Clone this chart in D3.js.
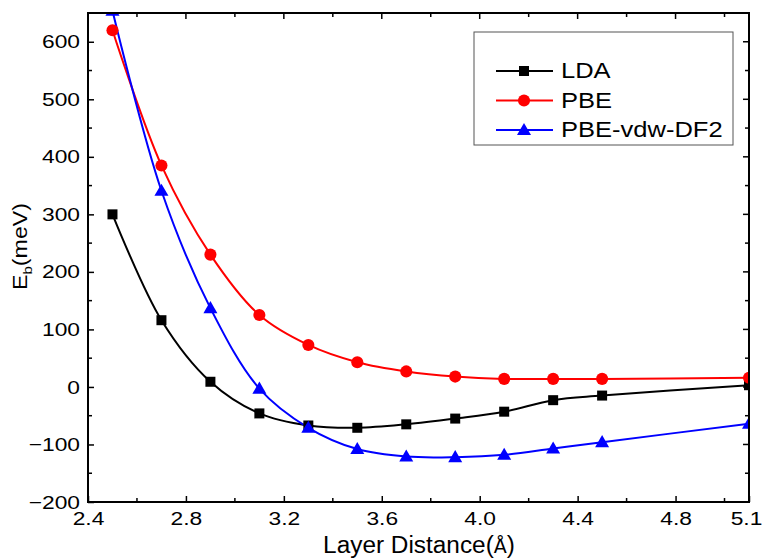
<!DOCTYPE html>
<html><head><meta charset="utf-8">
<script src="https://cdn.jsdelivr.net/npm/d3@7"></script>
<style>body{margin:0;background:#fff}svg{display:block;font-family:"Liberation Sans",Arial,sans-serif}</style>
</head><body><svg id="c" width="763" height="559"></svg>
<script>
const xs = [2.5, 2.7, 2.9, 3.1, 3.3, 3.5, 3.7, 3.9, 4.1, 4.3, 4.5, 5.1];
const lda = [300, 116, 9, -46, -67, -71, -65, -55, -43, -23, -15, 3];
const pbe = [620, 385, 230, 125, 73, 43, 27, 18, 14, 14, 14, 16];
const vdw = [654, 341, 137, -3, -71, -108, -121, -122, -118, -107, -96, -64];
const seriesNames = ["LDA", "PBE", "PBE-vdw-DF2"];
const xTicks = [2.4, 2.8, 3.2, 3.6, 4.0, 4.4, 4.8, 5.1];
const yTicks = [-200, -100, 0, 100, 200, 300, 400, 500, 600];

const svg = d3.select("#c");
const L = 88, R = 749, T = 13, B = 502;
const x = d3.scaleLinear().domain([2.4, 5.1]).range([L, R]);
const y = d3.scaleLinear().domain([-200, 650]).range([B, T]);

svg.append("defs").append("clipPath").attr("id","clip").append("rect")
  .attr("x", L).attr("y", T).attr("width", R - L).attr("height", B - T);

const series = [
  {name: seriesNames[0], vals: lda, color: "#000000", sym: d3.symbolSquare, size: 100},
  {name: seriesNames[1], vals: pbe, color: "#ff0000", sym: d3.symbolCircle, size: 115},
  {name: seriesNames[2], vals: vdw, color: "#0000ff", sym: d3.symbolTriangle, size: 85}
];

const g = svg.append("g").attr("clip-path","url(#clip)");
const line = d3.line().x((d,i)=>x(xs[i])).y(d=>y(d)).curve(d3.curveCatmullRom.alpha(0.5));
series.forEach(s => {
  g.append("path").attr("d", line(s.vals)).attr("fill","none").attr("stroke", s.color).attr("stroke-width", 2);
});
series.forEach(s => {
  g.selectAll(null).data(s.vals).enter().append("path")
    .attr("transform",(d,i)=>`translate(${x(xs[i])},${y(d) + (s.sym===d3.symbolTriangle?1:0)})`)
    .attr("d", d3.symbol().type(s.sym).size(s.size)).attr("fill", s.color);
});

const SX = 1.2;
const bottom = svg.append("g").attr("transform",`translate(0,${B})`)
  .call(d3.axisBottom(x).tickValues(xTicks).tickFormat(d3.format(".1f")).tickSizeInner(-6).tickSizeOuter(0).tickPadding(10));
bottom.selectAll("text").attr("font-size", 19).attr("font-family","Liberation Sans, Arial, sans-serif")
  .attr("x", d => d === 5.1 ? -3 / SX : 0)
  .attr("transform",`scale(${SX},1)`);
const left = svg.append("g").attr("transform",`translate(${L},0)`)
  .call(d3.axisLeft(y).tickValues(yTicks).tickSizeInner(-6).tickSizeOuter(0).tickPadding(8));
left.selectAll("text").attr("font-size", 19).attr("font-family","Liberation Sans, Arial, sans-serif")
  .attr("x", -8 / SX).attr("transform",`scale(${SX},1)`);
svg.selectAll(".domain").remove();
svg.selectAll(".tick line").attr("stroke-width",1.5);

const minorX = d3.range(2.4, 5.1001, 0.2).map(v=>+v.toFixed(2));
const minorY = d3.range(-200, 651, 50);
const tk = svg.append("g").attr("stroke","#000").attr("stroke-width",1.5);
minorX.forEach(v => {
  const major = xTicks.some(t=>Math.abs(t-v)<1e-6);
  const len = major ? 6 : 4;
  if (!major) tk.append("line").attr("x1",x(v)).attr("x2",x(v)).attr("y1",B).attr("y2",B-len);
  tk.append("line").attr("x1",x(v)).attr("x2",x(v)).attr("y1",T).attr("y2",T+len);
});
minorY.forEach(v => {
  const major = yTicks.includes(v);
  const len = major ? 6 : 4;
  if (!major) tk.append("line").attr("x1",L).attr("x2",L+len).attr("y1",y(v)).attr("y2",y(v));
  tk.append("line").attr("x1",R).attr("x2",R-len).attr("y1",y(v)).attr("y2",y(v));
});
svg.append("rect").attr("x",L).attr("y",T).attr("width",R-L).attr("height",B-T)
  .attr("fill","none").attr("stroke","#000").attr("stroke-width",2);

// axis titles
const XS = 1.06;
const xt = svg.append("text").attr("transform",`translate(419,553) scale(${XS},1)`).attr("text-anchor","middle").attr("font-size",23);
xt.append("tspan").text("Layer Distance(");
xt.append("tspan").attr("font-family","DejaVu Sans Condensed, DejaVu Sans").attr("font-size",20).attr("font-weight",200).text("Å");
xt.append("tspan").text(")");
const yt = svg.append("text").attr("transform","translate(27,246.5) rotate(-90) scale(1.16,1)").attr("text-anchor","middle").attr("font-size",20);
yt.append("tspan").text("E");
yt.append("tspan").attr("font-size",13).attr("dy",5).text("b");
yt.append("tspan").attr("dy",-5).text("(meV)");

// legend
const LS = 1.16;
const lg = svg.append("g");
lg.append("rect").attr("x",474).attr("y",32).attr("width",259).attr("height",113)
  .attr("fill","#fff").attr("stroke","#555").attr("stroke-width",1);
series.forEach((s,i) => {
  const yy = 71 + i*29.5;
  lg.append("line").attr("x1",496).attr("x2",553).attr("y1",yy).attr("y2",yy).attr("stroke",s.color).attr("stroke-width",2);
  lg.append("path").attr("transform",`translate(524,${yy + (s.sym===d3.symbolTriangle?1:0)})`)
    .attr("d", d3.symbol().type(s.sym).size(s.size)).attr("fill", s.color);
  lg.append("text").attr("transform",`translate(561,${yy+7}) scale(${LS},1)`).attr("font-size",22).text(s.name);
});
</script></body></html>
